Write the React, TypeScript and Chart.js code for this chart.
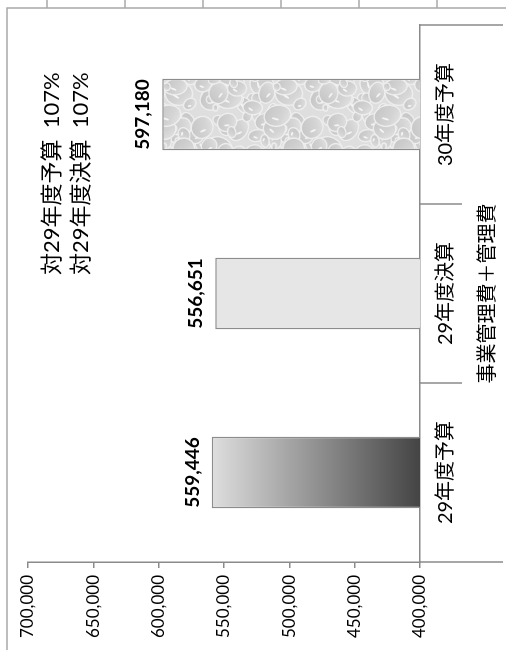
import React, { useEffect, useRef } from 'react';
import { Chart, registerables } from 'chart.js';

Chart.register(...registerables);

// ---- data ----
const categories = ['29年度予算', '29年度決算', '30年度予算'];
const groupLabel = '事業管理費＋管理費';
const values = [559446, 556651, 597180];
const yTickValues = [400000, 450000, 500000, 550000, 600000, 650000, 700000];
const notes = ['対29年度予算  107%', '対29年度決算  107%'];

const FONT = "Lato, 'Noto Sans CJK JP', sans-serif";
const AXIS_COLOR = '#8a8a8a';

function makeDropletTile(): HTMLCanvasElement {
  const S = 110;
  const tile = document.createElement('canvas');
  tile.width = S;
  tile.height = S;
  const g = tile.getContext('2d')!;
  g.fillStyle = '#dedede';
  g.fillRect(0, 0, S, S);
  let seed = 4242;
  const rnd = () => {
    seed = (seed * 1103515245 + 12345) % 2147483648;
    return seed / 2147483648;
  };
  const drops: number[][] = [];
  for (let i = 0; i < 75; i++) {
    drops.push([rnd() * S, rnd() * S, 3 + rnd() * 11, 0.6 + rnd() * 0.35, rnd() * Math.PI]);
  }
  for (const [cx, cy, r, k, rot] of drops) {
    for (const ox of [-S, 0, S]) {
      for (const oy of [-S, 0, S]) {
        const x = cx + ox;
        const y = cy + oy;
        if (x + r < 0 || x - r > S || y + r < 0 || y - r > S) continue;
        g.save();
        g.translate(x, y);
        g.rotate(rot);
        const grad = g.createLinearGradient(-r, -r * k, r, r * k);
        grad.addColorStop(0, '#c3c3c3');
        grad.addColorStop(0.6, '#d3d3d3');
        grad.addColorStop(1, '#e6e6e6');
        g.fillStyle = grad;
        g.beginPath();
        g.ellipse(0, 0, r, r * k, 0, 0, Math.PI * 2);
        g.fill();
        g.strokeStyle = 'rgba(240,240,240,0.9)';
        g.lineWidth = 1.4;
        g.stroke();
        if (r > 6) {
          g.fillStyle = 'rgba(255,255,255,0.75)';
          g.beginPath();
          g.ellipse(-r * 0.2, r * k * 0.25, r * 0.28, Math.max(1, r * 0.07), 0.5, 0, Math.PI * 2);
          g.fill();
        }
        g.restore();
      }
    }
  }
  return tile;
}

const decorPlugin = {
  id: 'decor',
  beforeDraw(chart: any) {
    const { ctx, width, height } = chart;
    ctx.save();
    ctx.strokeStyle = '#a8a8a8';
    ctx.lineWidth = 1.5;
    ctx.beginPath();
    ctx.moveTo(0, 7);
    ctx.lineTo(642, 7);
    ctx.lineTo(642, height);
    for (const y of [47, 125, 203, 281, 359, 437]) {
      ctx.moveTo(642, y);
      ctx.lineTo(width, y);
    }
    ctx.stroke();
    ctx.restore();
  },
  afterDatasetsDraw(chart: any) {
    const { ctx } = chart;
    const meta = chart.getDatasetMeta(0);
    ctx.save();
    ctx.font = `bold 19px ${FONT}`;
    ctx.fillStyle = '#000';
    ctx.textAlign = 'center';
    ctx.textBaseline = 'middle';
    meta.data.forEach((bar: any, i: number) => {
      ctx.fillText(values[i].toLocaleString('en-US'), bar.x, bar.y - 19);
    });
    ctx.restore();
  },
  afterDraw(chart: any) {
    const { ctx } = chart;
    const xs = chart.scales.x;
    const n = categories.length;
    const step = (xs.right - xs.left) / n;
    ctx.save();
    ctx.strokeStyle = AXIS_COLOR;
    ctx.lineWidth = 1.5;
    ctx.beginPath();
    for (let i = 0; i <= n; i++) {
      const px = xs.left + i * step;
      const len = i === 0 || i === n ? 83 : 42;
      ctx.moveTo(px, xs.top);
      ctx.lineTo(px, xs.top + len);
    }
    ctx.stroke();

    ctx.fillStyle = '#000';
    ctx.textAlign = 'center';
    ctx.textBaseline = 'middle';
    ctx.font = `20px ${FONT}`;
    ctx.fillText(groupLabel, (xs.left + xs.right) / 2, xs.top + 68);

    ctx.font = `22px ${FONT}`;
    ctx.textAlign = 'left';
    notes.forEach((t, i) => {
      ctx.fillText(t, 375, 52 + i * 29);
    });
    ctx.restore();
  },
};

export default function App() {
  const canvasRef = useRef<HTMLCanvasElement | null>(null);

  useEffect(() => {
    const canvas = canvasRef.current!;
    const c2d = canvas.getContext('2d')!;
    const pattern = c2d.createPattern(makeDropletTile(), 'repeat');

    const chart = new Chart(canvas, {
      type: 'bar',
      data: {
        labels: categories,
        datasets: [
          {
            data: values,
            backgroundColor: (c: any) => {
              const i = c.dataIndex;
              if (i === 0) {
                const ch = c.chart;
                const ys = ch.scales?.y;
                if (!ys) return '#999';
                const top = ys.getPixelForValue(values[0]);
                const bottom = ys.getPixelForValue(yTickValues[0]);
                if (!Number.isFinite(top) || !Number.isFinite(bottom) || top === bottom) return '#999';
                const grad = ch.ctx.createLinearGradient(0, top, 0, bottom);
                grad.addColorStop(0, '#dedede');
                grad.addColorStop(1, '#444444');
                return grad;
              }
              if (i === 1) return '#e6e6e6';
              return pattern || '#d8d8d8';
            },
            borderColor: '#8c8c8c',
            borderWidth: 1.5,
            borderSkipped: false,
            barPercentage: 0.4,
            categoryPercentage: 1,
          },
        ],
      },
      options: {
        responsive: false,
        animation: false,
        layout: { padding: { left: 0, right: 25, top: 28, bottom: 0 } },
        plugins: {
          legend: { display: false },
          tooltip: { enabled: false },
        },
        scales: {
          x: {
            type: 'category',
            offset: true,
            afterFit: (s: any) => {
              s.height = 86;
            },
            grid: { display: true, drawOnChartArea: false, drawTicks: false },
            border: { display: true, color: AXIS_COLOR, width: 1.5 },
            ticks: {
              color: '#000',
              font: { family: FONT, size: 20 },
              padding: 14,
              maxRotation: 0,
              minRotation: 0,
            },
          },
          y: {
            min: yTickValues[0],
            max: yTickValues[yTickValues.length - 1],
            afterFit: (s: any) => {
              s.width = 88;
            },
            afterBuildTicks: (s: any) => {
              s.ticks = yTickValues.map((v) => ({ value: v }));
            },
            grid: {
              display: true,
              drawOnChartArea: false,
              drawTicks: true,
              tickLength: 6,
              color: AXIS_COLOR,
              lineWidth: 1.5,
            },
            border: { display: true, color: AXIS_COLOR, width: 1.5 },
            ticks: {
              color: '#000',
              font: { family: FONT, size: 17 },
              padding: 7,
              callback: (v: any) => Number(v).toLocaleString('en-US'),
            },
          },
        },
      },
      plugins: [decorPlugin],
    } as any);

    return () => chart.destroy();
  }, []);

  return (
    <div
      style={{
        position: 'fixed',
        left: 0,
        top: 0,
        width: 506,
        height: 650,
        overflow: 'hidden',
        background: '#fff',
      }}
    >
      <canvas
        ref={canvasRef}
        width={650}
        height={506}
        style={{
          position: 'absolute',
          left: 0,
          top: 0,
          width: 650,
          height: 506,
          transform: 'translate(0px, 650px) rotate(-90deg)',
          transformOrigin: '0 0',
        }}
      />
    </div>
  );
}
